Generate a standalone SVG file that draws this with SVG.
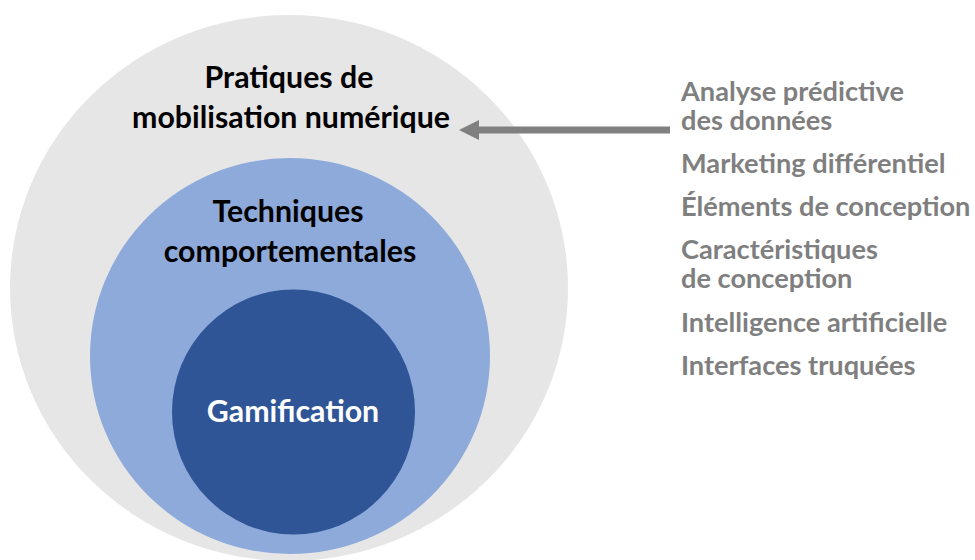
<svg xmlns="http://www.w3.org/2000/svg" width="975" height="560" viewBox="0 0 975 560">
  <style>
    .lbl { font-family: Lato, "Liberation Sans", Arial, sans-serif; font-weight: bold; font-size: 30.3px; text-anchor: middle; fill: #000000; }
    .lbl-inv { fill: #ffffff; }
    .item { font-family: Lato, "Liberation Sans", Arial, sans-serif; font-weight: bold; font-size: 27.2px; fill: #7f7f7f; }
    .conn { stroke: #808080; stroke-width: 7; fill: none; }
  </style>
  <defs>
    <marker id="arrowhead" viewBox="0 0 20 20" refX="2" refY="10" markerUnits="userSpaceOnUse" markerWidth="20" markerHeight="20" orient="auto">
      <path d="M0,0 L20,10 L0,20 Z" fill="#808080"/>
    </marker>
  </defs>

  <!-- outer ring: digital mobilisation practices -->
  <g id="pratiques">
    <ellipse cx="289" cy="288" rx="279" ry="273" fill="#e6e6e6"/>
    <text class="lbl" x="289" y="88">Pratiques de<tspan x="291" y="128">mobilisation numérique</tspan></text>
  </g>

  <!-- middle ring: behavioural techniques -->
  <g id="techniques">
    <ellipse cx="290" cy="356" rx="200" ry="198" fill="#8eaadb"/>
    <text class="lbl" x="288" y="222">Techniques<tspan x="290" y="262">comportementales</tspan></text>
  </g>

  <!-- core: gamification -->
  <g id="gamification">
    <ellipse cx="293.5" cy="412" rx="121.5" ry="122.5" fill="#2f5597"/>
    <text class="lbl lbl-inv" x="293" y="422">Gamification</text>
  </g>

  <!-- list of related practices -->
  <g id="liste">
    <text class="item" x="681" y="101">Analyse prédictive<tspan x="681" y="130">des données</tspan></text>
    <text class="item" x="681" y="173">Marketing différentiel</text>
    <text class="item" x="681" y="216">Éléments de conception</text>
    <text class="item" x="681" y="259">Caractéristiques<tspan x="681" y="288">de conception</tspan></text>
    <text class="item" x="681" y="332">Intelligence artificielle</text>
    <text class="item" x="681" y="375">Interfaces truquées</text>
  </g>

  <!-- connector from the list to the outer ring -->
  <g id="connecteurs">
    <line class="conn" x1="670" y1="130" x2="477" y2="130" marker-end="url(#arrowhead)"/>
  </g>
</svg>
